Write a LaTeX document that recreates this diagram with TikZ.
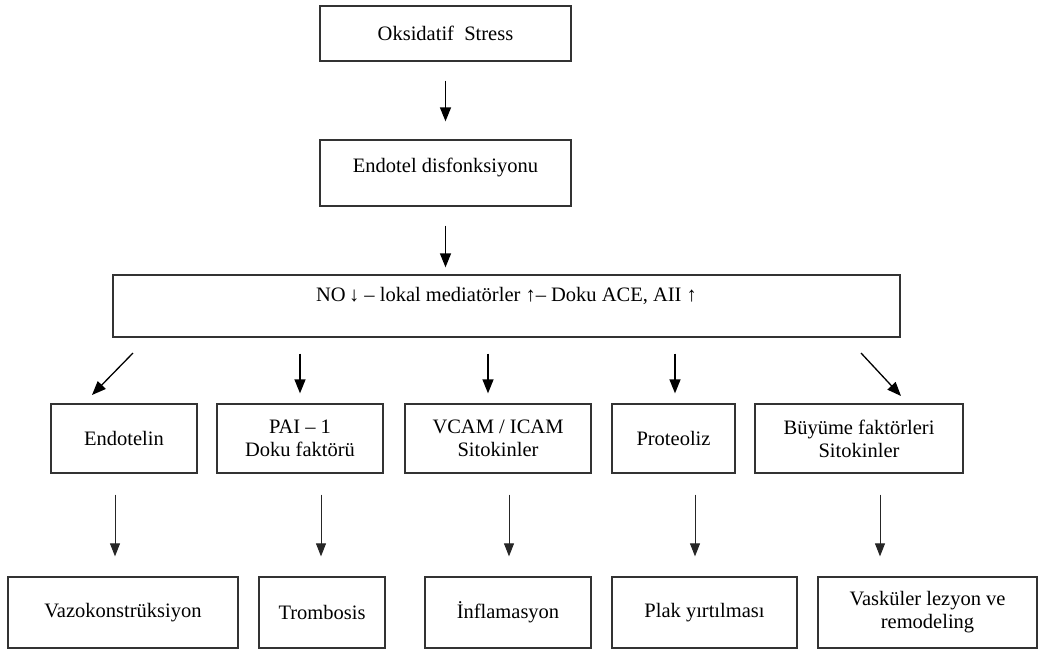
\documentclass[tikz,border=0pt]{standalone}
\usepackage{fontspec}
\setmainfont{Liberation Serif}
\usetikzlibrary{arrows.meta,calc}
\begin{document}
\begin{tikzpicture}[x=1pt,y=-1pt,
  box/.style={draw=black!80, line width=1.3pt, fill=white, inner sep=2pt, align=center,
    font=\fontsize{20.5}{23}\selectfont},
  arrA/.style={line width=1.3pt, -{Triangle[width=11pt,length=14pt]}},
  arrB/.style={line width=0.9pt, draw=black!85, -{Triangle[width=10pt,length=13pt]}}]
\fill[white] (0,0) rectangle (1039,651);
\useasboundingbox (0,0) rectangle (1039,651);
% top
\node[box, minimum width=251pt, minimum height=55pt] (oks) at (445.5,33.5) {Oksidatif\ \ Stress};
\node[box, minimum width=251pt, minimum height=66pt, text depth=16pt] (endo) at (445.5,173) {Endotel disfonksiyonu};
\node[box, minimum width=787pt, minimum height=62pt, text depth=24pt] (no) at (506.5,306)
  {NO\,\raisebox{0pt}{↓} – lokal mediatörler ↑– Doku ACE, AII ↑};
% row 2
\node[box, minimum width=146pt, minimum height=69pt] (endt) at (124,438.5) {Endotelin};
\node[box, minimum width=166pt, minimum height=69pt] (pai) at (300,438.5) {PAI – 1\\Doku faktörü};
\node[box, minimum width=186pt, minimum height=69pt] (vcam) at (498,438.5) {VCAM / ICAM\\Sitokinler};
\node[box, minimum width=123pt, minimum height=69pt] (prot) at (673.5,438.5) {Proteoliz};
\node[box, minimum width=208pt, minimum height=69pt] (buy) at (859,438.5) {Büyüme faktörleri\\Sitokinler};
% row 3
\node[box, minimum width=230pt, minimum height=71pt] (vazo) at (123,612.5) {Vazokonstrüksiyon};
\node[box, minimum width=126pt, minimum height=71pt] (trom) at (322,612.5) {Trombosis};
\node[box, minimum width=166pt, minimum height=71pt] (infl) at (508,612.5) {İnflamasyon};
\node[box, minimum width=185pt, minimum height=71pt] (plak) at (704.5,612.5) {Plak yırtılması};
\node[box, minimum width=219pt, minimum height=71pt] (vask) at (927.5,612.5) {Vasküler lezyon ve\\remodeling};
% arrows top
\draw[arrA, shorten <=19pt, shorten >=18pt] (oks.south) -- (endo.north);
\draw[arrA, shorten <=19pt, shorten >=7pt] (endo.south) -- (endo.south |- no.north);
% arrows row 2
\coordinate (dl1) at (133,353); \coordinate (dl2) at (92,395);
\coordinate (dr1) at (861,353); \coordinate (dr2) at (901,396);
\draw[arrA] (dl1) -- (dl2);
\draw[arrA] (dr1) -- (dr2);
\draw[arrA, shorten <=16pt, shorten >=10pt] (pai.north |- no.south) -- (pai.north);
\draw[arrA, shorten <=16pt, shorten >=10pt] ([xshift=-10pt]vcam.north |- no.south) -- ([xshift=-10pt]vcam.north);
\draw[arrA, shorten <=16pt, shorten >=10pt] ([xshift=1.5pt]prot.north |- no.south) -- ([xshift=1.5pt]prot.north);
% arrows row 3
\draw[arrB, shorten <=21pt, shorten >=20pt] (endt.south -| 115,0) -- (vazo.north -| 115,0);
\draw[arrB, shorten <=21pt, shorten >=20pt] (pai.south -| 321,0) -- (trom.north -| 321,0);
\draw[arrB, shorten <=21pt, shorten >=20pt] (vcam.south -| 509,0) -- (infl.north -| 509,0);
\draw[arrB, shorten <=21pt, shorten >=20pt] (prot.south -| 695,0) -- (plak.north -| 695,0);
\draw[arrB, shorten <=21pt, shorten >=20pt] (buy.south -| 880,0) -- (vask.north -| 880,0);
\end{tikzpicture}
\end{document}
